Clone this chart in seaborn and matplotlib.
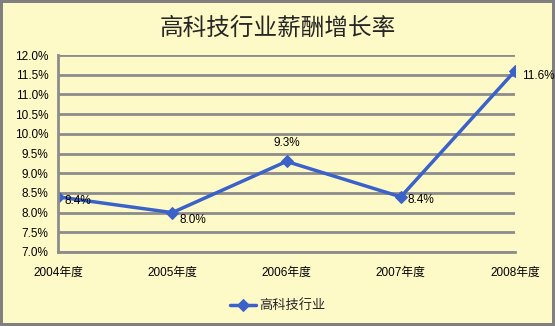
import matplotlib
matplotlib.use("Agg")
import matplotlib.pyplot as plt
import seaborn as sns
import pandas as pd
from matplotlib.ticker import FuncFormatter, MultipleLocator

years = ["2004年度", "2005年度", "2006年度", "2007年度", "2008年度"]
values = [8.4, 8.0, 9.3, 8.4, 11.6]
series_name = "高科技行业"
title = "高科技行业薪酬增长率"

sns.set_style("white")
plt.rcParams['font.family'] = ['Liberation Sans', 'Noto Sans CJK SC', 'DejaVu Sans']

bg = "#FEFAC8"
grid = "#8C8C8C"
blue = "#3A62C8"

df = pd.DataFrame({"year": years, "value": values, "x": range(len(years))})

fig = plt.figure(figsize=(5.55, 3.26), dpi=100, facecolor=bg, edgecolor="#808080", linewidth=4)
ax = fig.add_axes([0.1045, 0.227, 0.8235, 0.604])
ax.set_facecolor(bg)

sns.lineplot(data=df, x="x", y="value", ax=ax, color=blue, linewidth=2.5,
             marker="D", markersize=6, markeredgecolor=blue, label=series_name)

ax.set_xlim(0, len(years) - 1)
ax.set_ylim(7.0, 12.0)
ax.yaxis.set_major_locator(MultipleLocator(0.5))
ax.yaxis.set_major_formatter(FuncFormatter(lambda v, p: f"{v:.1f}%"))
ax.set_xticks(list(df["x"]))
ax.set_xticklabels(years)
ax.set_xlabel("")
ax.set_ylabel("")
ax.grid(axis="y", color=grid, linewidth=2)
ax.set_axisbelow(True)
for s in ["top", "right"]:
    ax.spines[s].set_visible(False)
for s in ["left", "bottom"]:
    ax.spines[s].set_color(grid)
    ax.spines[s].set_linewidth(2)
ax.tick_params(axis="both", colors=grid, labelcolor="#000000", labelsize=8.5,
               length=4, width=1.5, direction="out")
ax.tick_params(axis="y", pad=3)
ax.tick_params(axis="x", pad=9, length=4, direction="inout")

offsets = [(5, -3), (5, -5), (0, 9), (5, -2), (5, -4)]
has = ["left", "left", "center", "left", "left"]
vas = ["center", "center", "bottom", "center", "center"]
for xi, v, off, ha, va in zip(df["x"], values, offsets, has, vas):
    ax.annotate(f"{v:.1f}%", (xi, v), xytext=off, textcoords="offset points",
                ha=ha, va=va, fontsize=8.5, color="#000000", annotation_clip=False)

fig.text(0.5, 0.915, title, ha="center", va="center", fontsize=17,
         family=['Noto Sans CJK SC', 'DejaVu Sans'])

leg = ax.legend(loc="center", bbox_to_anchor=(0.5, 0.062), bbox_transform=fig.transFigure,
                frameon=False, fontsize=9.5, handlelength=2.0, handletextpad=0.2)

fig.savefig("out.png", dpi=100, facecolor=bg, edgecolor="#808080")
